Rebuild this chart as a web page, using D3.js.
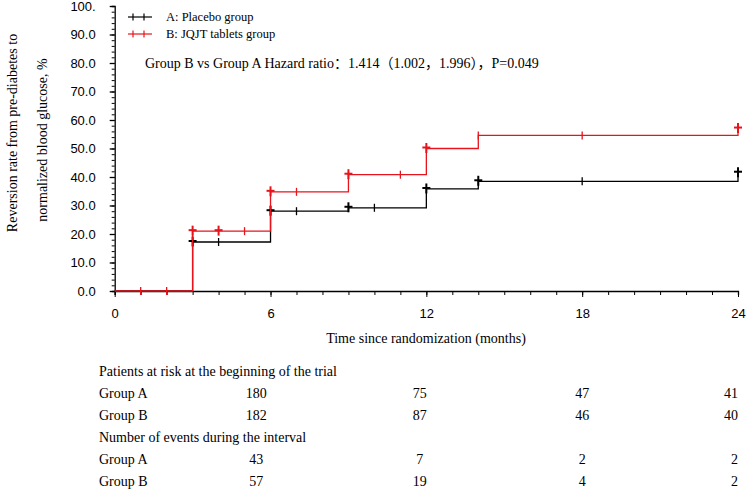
<!DOCTYPE html>
<html><head><meta charset="utf-8">
<script src="https://cdn.jsdelivr.net/npm/d3@7"></script>
<style>body{margin:0;background:#fff}svg{display:block}</style>
</head><body>
<script>
// ---- data ----
const stepTimes = [0, 3, 6, 9, 12, 14, 24];
const groupA = [0, 17.2, 28.0, 29.2, 35.8, 38.5, 41.5];
const groupB = [0, 21.0, 34.8, 40.8, 50.0, 54.6, 57.0];
const censorA = [4, 7, 10, 18];
const eventMarkA = [3, 6, 9, 12, 14, 24];
const censorB = [1, 2, 5, 7, 11, 14, 18];
const eventMarkB = [3, 4, 6, 9, 12, 24];
const xTicks = [0, 6, 12, 18, 24];
const yTicks = [0, 10, 20, 30, 40, 50, 60, 70, 80, 90, 100];
const yTickLabels = ["0.0","10.0","20.0","30.0","40.0","50.0","60.0","70.0","80.0","90.0","100."];
const tableRows = [
  {label: "Patients at risk at the beginning of the trial", vals: null},
  {label: "Group A", vals: [180, 75, 47, 41]},
  {label: "Group B", vals: [182, 87, 46, 40]},
  {label: "Number of events during the interval", vals: null},
  {label: "Group A", vals: [43, 7, 2, 2]},
  {label: "Group B", vals: [57, 19, 4, 2]}
];
const tableColX = [5.45, 11.75, 18.0, 24.0];
const legendItems = [{label: "A: Placebo group", color: "#000"}, {label: "B: JQJT tablets group", color: "#e8141c"}];
const hrText = "Group B vs Group A Hazard ratio：1.414（1.002，1.996），P=0.049";

const W = 750, H = 492;
const svg = d3.select("body").append("svg").attr("width", W).attr("height", H);
const x = d3.scaleLinear().domain([0, 24]).range([114.7, 738]);
const y = d3.scaleLinear().domain([0, 100]).range([291, 6]);
const serif = "'Liberation Serif','Times New Roman','Noto Sans CJK SC',serif";
const sans = "'Liberation Sans',Arial,sans-serif";

// y axis
const gy = svg.append("g").attr("transform", `translate(${x(0)},0)`);
gy.call(d3.axisLeft(y).tickValues(d3.range(0, 101, 2)).tickSize(3).tickFormat(""));
gy.call(g => g.selectAll(".tick line").attr("stroke", "#000"));
gy.select(".domain").attr("stroke", "#000").attr("stroke-width", 1.3);
const gyMaj = svg.append("g").attr("transform", `translate(${x(0)},0)`)
  .call(d3.axisLeft(y).tickValues(yTicks).tickSize(5).tickPadding(14).tickFormat((d, i) => yTickLabels[i]));
gyMaj.select(".domain").remove();
gyMaj.selectAll("text").attr("font-family", sans).attr("font-size", 13).attr("fill", "#000");
gyMaj.selectAll(".tick line").attr("stroke-width", 1.3);

// x axis
const gx = svg.append("g").attr("transform", `translate(0,${y(0)})`);
gx.call(d3.axisBottom(x).tickValues(d3.range(0, 25, 1)).tickSize(4).tickFormat(""));
gx.select(".domain").attr("stroke", "#000").attr("stroke-width", 1.3);
const gxMaj = svg.append("g").attr("transform", `translate(0,${y(0)})`)
  .call(d3.axisBottom(x).tickValues(xTicks).tickSize(6).tickPadding(12).tickFormat(d3.format("d")));
gxMaj.select(".domain").remove();
gxMaj.selectAll("text").attr("font-family", sans).attr("font-size", 13).attr("fill", "#000");

// curves
function stepData(vals) { return stepTimes.map((t, i) => [t, vals[i]]); }
const line = d3.line().x(d => x(d[0])).y(d => y(d[1])).curve(d3.curveStepAfter);
function valAt(vals, t) { let v = 0; stepTimes.forEach((s, i) => { if (t >= s) v = vals[i]; }); return v; }

function drawGroup(vals, censors, marks, color) {
  svg.append("path").datum(stepData(vals)).attr("d", line)
    .attr("fill", "none").attr("stroke", color).attr("stroke-width", 1.3);
  svg.selectAll(null).data(censors).enter().append("line")
    .attr("x1", d => x(d)).attr("x2", d => x(d))
    .attr("y1", d => y(valAt(vals, d)) - 4).attr("y2", d => y(valAt(vals, d)) + 4)
    .attr("stroke", color).attr("stroke-width", 1.3);
  const g = svg.selectAll(null).data(marks).enter().append("g")
    .attr("transform", d => `translate(${x(d)},${y(valAt(vals, d))})`);
  g.append("line").attr("x1", 0).attr("x2", 0).attr("y1", -5.5).attr("y2", 4.5).attr("stroke", color).attr("stroke-width", 2);
  g.append("line").attr("x1", -4).attr("x2", 4).attr("y1", -1).attr("y2", -1).attr("stroke", color).attr("stroke-width", 2);
}
drawGroup(groupA, censorA, eventMarkA, "#000");
drawGroup(groupB, censorB, eventMarkB, "#e8141c");

// legend
legendItems.forEach((it, i) => {
  const ly = 17 + i * 17;
  svg.append("line").attr("x1", 128).attr("x2", 152).attr("y1", ly).attr("y2", ly).attr("stroke", it.color).attr("stroke-width", 1.2);
  [133, 144].forEach(px => svg.append("line").attr("x1", px).attr("x2", px).attr("y1", ly - 3.5).attr("y2", ly + 3.5).attr("stroke", it.color).attr("stroke-width", 1.2));
  svg.append("text").attr("x", 166).attr("y", ly + 4).attr("font-family", serif).attr("font-size", 12.5).text(it.label);
});
svg.append("text").attr("x", 145).attr("y", 68).attr("font-family", serif).attr("font-size", 14).text(hrText);

// y label
svg.append("text").attr("transform", "translate(17,133) rotate(-90)").attr("text-anchor", "middle")
  .attr("font-family", serif).attr("font-size", 14).text("Reversion rate from pre-diabetes to");
svg.append("text").attr("transform", "translate(47,140) rotate(-90)").attr("text-anchor", "middle")
  .attr("font-family", serif).attr("font-size", 14).text("normalized blood glucose, %");

// x label
svg.append("text").attr("x", 426).attr("y", 343).attr("text-anchor", "middle")
  .attr("font-family", serif).attr("font-size", 14).text("Time since randomization (months)");

// table
tableRows.forEach((r, i) => {
  const ty = 376 + i * 22;
  svg.append("text").attr("x", 99).attr("y", ty).attr("font-family", serif).attr("font-size", 14).text(r.label);
  if (r.vals) r.vals.forEach((v, j) => {
    svg.append("text").attr("x", x(tableColX[j])).attr("y", ty).attr("text-anchor", j === 3 ? "end" : "middle")
      .attr("font-family", serif).attr("font-size", 14).text(v);
  });
});
</script>
</body></html>
